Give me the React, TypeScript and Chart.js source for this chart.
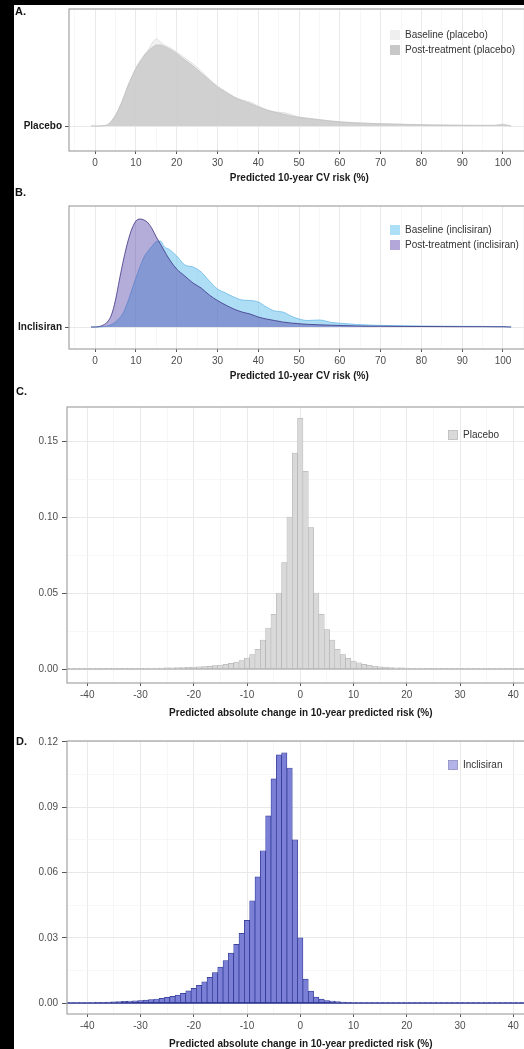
import React, { useEffect, useRef } from 'react';
import { Chart, registerables } from 'chart.js';

Chart.register(...registerables);

const FONT = "'Liberation Sans', Arial, Helvetica, sans-serif";

// ---------- Panels A & B: ridgeline densities of predicted 10-year CV risk ----------
const riskX = [-1, 0, 1, 2, 3, 4, 5, 6, 7, 8, 9, 10, 11, 12, 13, 14, 15, 16, 17, 18, 20, 22, 24, 26, 28, 30, 32, 34, 36, 38, 40, 42, 44, 46, 48, 50, 52, 55, 58, 61, 64, 67, 70, 75, 80, 85, 90, 95, 98, 100, 101, 102];
const riskTicks = [0, 10, 20, 30, 40, 50, 60, 70, 80, 90, 100];
const riskMinor = [-5, 5, 15, 25, 35, 45, 55, 65, 75, 85, 95, 105];

const placeboBaseline = [0, 0, 0, 0.003, 0.01, 0.04, 0.10, 0.18, 0.28, 0.39, 0.49, 0.58, 0.65, 0.71, 0.76, 0.83, 0.87, 0.84, 0.81, 0.79, 0.74, 0.68, 0.62, 0.55, 0.47, 0.40, 0.345, 0.295, 0.26, 0.24, 0.20, 0.165, 0.14, 0.135, 0.115, 0.09, 0.078, 0.063, 0.05, 0.04, 0.032, 0.027, 0.022, 0.017, 0.012, 0.009, 0.007, 0.006, 0.006, 0.02, 0.01, 0];
const placeboPost = [0, 0, 0, 0.004, 0.012, 0.05, 0.11, 0.19, 0.29, 0.40, 0.49, 0.575, 0.64, 0.70, 0.75, 0.785, 0.81, 0.81, 0.795, 0.775, 0.725, 0.66, 0.60, 0.53, 0.46, 0.39, 0.34, 0.29, 0.255, 0.225, 0.19, 0.16, 0.14, 0.12, 0.10, 0.087, 0.077, 0.063, 0.048, 0.038, 0.031, 0.026, 0.022, 0.017, 0.012, 0.009, 0.007, 0.006, 0.006, 0.012, 0.006, 0];
const inclisiranBaseline = [0, 0, 0, 0.003, 0.01, 0.025, 0.05, 0.09, 0.15, 0.25, 0.37, 0.49, 0.60, 0.70, 0.76, 0.81, 0.855, 0.86, 0.80, 0.78, 0.71, 0.62, 0.60, 0.55, 0.46, 0.38, 0.34, 0.30, 0.27, 0.265, 0.25, 0.20, 0.16, 0.15, 0.11, 0.08, 0.065, 0.07, 0.045, 0.035, 0.025, 0.02, 0.016, 0.013, 0.01, 0.008, 0.007, 0.006, 0.005, 0.004, 0.002, 0];
const inclisiranPost = [0, 0, 0.005, 0.02, 0.05, 0.12, 0.27, 0.48, 0.68, 0.85, 0.98, 1.06, 1.08, 1.07, 1.04, 0.98, 0.90, 0.83, 0.76, 0.69, 0.58, 0.51, 0.44, 0.39, 0.32, 0.265, 0.22, 0.18, 0.15, 0.13, 0.10, 0.08, 0.065, 0.05, 0.04, 0.033, 0.027, 0.022, 0.018, 0.014, 0.011, 0.009, 0.008, 0.006, 0.005, 0.004, 0.003, 0.003, 0.002, 0.002, 0.001, 0];

// ---------- Panels C & D: histograms of absolute change (bins of width 1, -44 .. 44) ----------
const binStart = -44;
const binWidth = 1;
const placeboChange = [
  // -44 .. -35
  0.0002, 0.0002, 0.0002, 0.0002, 0.0002, 0.0002, 0.0003, 0.0003, 0.0003, 0.0003,
  // -34 .. -25
  0.0003, 0.0004, 0.0004, 0.0004, 0.0004, 0.0005, 0.0005, 0.0006, 0.0006, 0.0007,
  // -24 .. -15
  0.0008, 0.0009, 0.001, 0.0011, 0.0012, 0.0014, 0.0016, 0.0018, 0.0022, 0.0026,
  // -14 .. -1
  0.0031, 0.0037, 0.0045, 0.0055, 0.0072, 0.0095, 0.013, 0.019, 0.027, 0.036, 0.05, 0.07, 0.10, 0.142,
  // 0
  0.165,
  // 1 .. 10
  0.13, 0.093, 0.05, 0.036, 0.026, 0.019, 0.013, 0.0095, 0.007, 0.0052,
  // 11 .. 20
  0.004, 0.0031, 0.0024, 0.0019, 0.0015, 0.0012, 0.001, 0.0008, 0.0007, 0.0006,
  // 21 .. 30
  0.0005, 0.0005, 0.0004, 0.0004, 0.0003, 0.0003, 0.0003, 0.0003, 0.0003, 0.0002,
  // 31 .. 44
  0.0002, 0.0002, 0.0002, 0.0002, 0.0002, 0.0002, 0.0002, 0.0002, 0.0002, 0.0002,
  0.0002, 0.0002, 0.0002, 0.0002,
];
const inclisiranChange = [
  // -44 .. -35
  0.0002, 0.0002, 0.0003, 0.0003, 0.0003, 0.0003, 0.0004, 0.0004, 0.0005, 0.0006,
  // -34 .. -25
  0.0007, 0.0008, 0.0009, 0.001, 0.0012, 0.0014, 0.0016, 0.0019, 0.0022, 0.0026,
  // -24 .. -15
  0.0031, 0.0037, 0.0045, 0.0056, 0.0068, 0.0082, 0.0098, 0.0118, 0.014, 0.0165,
  // -14 .. -3
  0.0195, 0.023, 0.027, 0.032, 0.038, 0.047, 0.058, 0.07, 0.086, 0.103, 0.114, 0.115,
  // -2 .. 0
  0.108, 0.075, 0.03,
  // 1 .. 10
  0.011, 0.0055, 0.0028, 0.0018, 0.0012, 0.0009, 0.0007, 0.0005, 0.0004, 0.0003,
  // 11 .. 20
  0.0003, 0.0002, 0.0002, 0.0002, 0.0002, 0.0002, 0.0002, 0.0002, 0.0002, 0.0002,
  // 21 .. 30
  0.0002, 0.0002, 0.0002, 0.0002, 0.0002, 0.0002, 0.0002, 0.0002, 0.0002, 0.0002,
  // 31 .. 44
  0.0002, 0.0002, 0.0002, 0.0002, 0.0002, 0.0002, 0.0002, 0.0002, 0.0002, 0.0002,
  0.0002, 0.0002, 0.0002, 0.0002,
];
const changeTicks = [-40, -30, -20, -10, 0, 10, 20, 30, 40];
const changeMinor = [-45, -35, -25, -15, -5, 5, 15, 25, 35, 45];
const placeboYTicks = [0, 0.05, 0.10, 0.15];
const placeboYMinor = [0.025, 0.075, 0.125];
const inclisiranYTicks = [0, 0.03, 0.06, 0.09, 0.12];
const inclisiranYMinor = [0.015, 0.045, 0.075, 0.105];

const CW = 540;

// Draws the zero-height bar outlines of the histogram as one baseline (like ggplot's outlined empty bins)
const zeroLinePlugin = {
  id: 'zeroLine',
  afterDatasetsDraw(chart: any, _args: any, opts: any) {
    if (!opts || !opts.color) return;
    const { ctx, chartArea: ca, scales } = chart;
    const y = scales.y.getPixelForValue(0);
    ctx.save();
    ctx.beginPath();
    ctx.rect(ca.left, ca.top, ca.right - ca.left, ca.bottom - ca.top);
    ctx.clip();
    ctx.strokeStyle = opts.color;
    ctx.lineWidth = opts.width;
    ctx.beginPath();
    ctx.moveTo(ca.left, y);
    ctx.lineTo(ca.right, y);
    ctx.stroke();
    ctx.restore();
  },
};

const decorPlugin = {
  id: 'decor',
  afterDraw(chart: any, _args: any, opts: any) {
    const { ctx, chartArea: ca } = chart;
    ctx.save();
    ctx.strokeStyle = '#a3a3a3';
    ctx.lineWidth = 1.2;
    ctx.strokeRect(ca.left, ca.top, ca.right - ca.left, ca.bottom - ca.top);
    ctx.fillStyle = '#111';
    ctx.font = `bold 11px ${FONT}`;
    ctx.textBaseline = 'middle';
    ctx.textAlign = 'left';
    ctx.fillText(opts.letter, opts.letterX, opts.letterY);
    ctx.font = `10px ${FONT}`;
    chart.data.datasets.forEach((ds: any, i: number) => {
      const y = opts.legendY + i * 15;
      ctx.fillStyle = ds.legendColor;
      ctx.fillRect(opts.legendX, y - 5, 10, 10);
      if (ds.legendBorder) {
        ctx.strokeStyle = ds.legendBorder;
        ctx.lineWidth = 0.6;
        ctx.strokeRect(opts.legendX + 0.3, y - 4.7, 9.4, 9.4);
      }
      ctx.fillStyle = '#333';
      ctx.fillText(ds.label, opts.legendX + 15, y);
    });
    ctx.restore();
  },
};

function xAxis(min: number, max: number, major: number[], minor: number[], title: string, height: number, titlePad: number) {
  const isMajor = (v: number) => major.some((m) => Math.abs(m - v) < 1e-6);
  return {
    type: 'linear',
    min,
    max,
    offset: false,
    afterBuildTicks: (s: any) => {
      s.ticks = [...major, ...minor].sort((a, b) => a - b).filter((v) => v >= min && v <= max).map((v) => ({ value: v }));
    },
    afterFit: (s: any) => {
      s.height = height;
      s.paddingLeft = 0;
      s.paddingRight = 0;
    },
    border: { display: false },
    grid: {
      offset: false,
      color: (c: any) => (c.tick && isMajor(c.tick.value) ? '#e9e9e9' : '#f4f4f4'),
      lineWidth: (c: any) => (c.tick && isMajor(c.tick.value) ? 1 : 0.7),
      tickColor: (c: any) => (c.tick && isMajor(c.tick.value) ? '#555' : 'rgba(0,0,0,0)'),
      tickLength: 3,
      tickWidth: 1,
    },
    ticks: {
      padding: 3,
      maxRotation: 0,
      autoSkip: false,
      color: '#4d4d4d',
      font: { family: FONT, size: 10 },
      callback: (v: number) => (isMajor(v) ? String(Math.round(v)) : ''),
    },
    title: {
      display: true,
      text: title,
      color: '#1a1a1a',
      font: { family: FONT, size: 10, weight: 'bold' },
      padding: { top: 0, bottom: titlePad },
    },
  };
}

function ridgeConfig(opts: any) {
  const mk = (label: string, arr: number[], fill: string, line: string, legendColor: string, order: number) => ({
    type: 'line',
    label,
    data: riskX.map((x, i) => ({ x, y: arr[i] })),
    backgroundColor: fill,
    borderColor: line,
    borderWidth: 0.8,
    fill: 'origin',
    pointRadius: 0,
    cubicInterpolationMode: 'monotone',
    legendColor,
    order,
  });
  return {
    type: 'line',
    data: {
      datasets: [
        mk(opts.baseLabel, opts.base, opts.baseFill, opts.baseLine, opts.baseLegend, 2),
        mk(opts.postLabel, opts.post, opts.postFill, opts.postLine, opts.postLegend, 1),
      ],
    },
    options: {
      responsive: false,
      animation: false,
      layout: { padding: { top: opts.padTop, right: opts.padRight, left: 0, bottom: 0 } },
      scales: {
        x: xAxis(-6.4, 106.5, riskTicks, riskMinor, 'Predicted 10-year CV risk (%)', opts.xHeight, opts.titlePad),
        y: {
          type: 'linear',
          min: opts.yMin,
          max: opts.yMax,
          afterBuildTicks: (s: any) => {
            s.ticks = [{ value: 0 }];
          },
          afterFit: (s: any) => {
            s.width = 55;
            s.paddingTop = 0;
            s.paddingBottom = 0;
          },
          border: { display: false },
          grid: { color: '#e9e9e9', tickColor: '#555', tickLength: 4 },
          ticks: {
            padding: 3,
            color: '#1a1a1a',
            font: { family: FONT, size: 10, weight: 'bold' },
            callback: () => opts.group,
          },
        },
      },
      plugins: {
        legend: { display: false },
        tooltip: { enabled: false },
        decor: { letter: opts.letter, letterX: 1, letterY: opts.letterY, legendX: 376, legendY: opts.legendY },
      },
    },
    plugins: [decorPlugin],
  };
}

function histConfig(opts: any) {
  const yMajor = (v: number) => opts.yTicks.some((m: number) => Math.abs(m - v) < 1e-9);
  return {
    type: 'bar',
    data: {
      datasets: [
        {
          label: opts.label,
          data: opts.values.map((y: number, i: number) => ({ x: binStart + i * binWidth, y })),
          backgroundColor: opts.fill,
          borderColor: opts.line,
          borderWidth: opts.lineWidth,
          borderSkipped: false,
          barPercentage: 1,
          categoryPercentage: 1,
          legendColor: opts.legendColor,
          legendBorder: opts.legendBorder,
        },
      ],
    },
    options: {
      responsive: false,
      animation: false,
      layout: { padding: { top: opts.padTop, right: 19.4, left: 0, bottom: 0 } },
      scales: {
        x: xAxis(-43.8, 44, changeTicks, changeMinor, 'Predicted absolute change in 10-year predicted risk (%)', opts.xHeight, opts.titlePad),
        y: {
          type: 'linear',
          min: opts.yMin,
          max: opts.yMax,
          afterBuildTicks: (s: any) => {
            s.ticks = [...opts.yTicks, ...opts.yMinor].sort((a: number, b: number) => a - b).map((v: number) => ({ value: v }));
          },
          afterFit: (s: any) => {
            s.width = 53;
            s.paddingTop = 0;
            s.paddingBottom = 0;
          },
          border: { display: false },
          grid: {
            color: (c: any) => (c.tick && yMajor(c.tick.value) ? '#e9e9e9' : '#f4f4f4'),
            lineWidth: (c: any) => (c.tick && yMajor(c.tick.value) ? 1 : 0.7),
            tickColor: (c: any) => (c.tick && yMajor(c.tick.value) ? '#555' : 'rgba(0,0,0,0)'),
            tickLength: 5,
          },
          ticks: {
            padding: 4,
            color: '#4d4d4d',
            font: { family: FONT, size: 10 },
            callback: (v: number) => (yMajor(v) ? v.toFixed(2) : ''),
          },
        },
      },
      plugins: {
        legend: { display: false },
        tooltip: { enabled: false },
        zeroLine: { color: opts.line, width: opts.zeroWidth },
        decor: { letter: opts.letter, letterX: 2, letterY: opts.letterY, legendX: 434, legendY: opts.legendY },
      },
    },
    plugins: [zeroLinePlugin, decorPlugin],
  };
}

const panels = [
  {
    top: 5,
    height: 190,
    config: () =>
      ridgeConfig({
        letter: 'A.', letterY: 7, group: 'Placebo',
        baseLabel: 'Baseline (placebo)', postLabel: 'Post-treatment (placebo)',
        base: placeboBaseline, post: placeboPost,
        baseFill: 'rgba(232,232,232,0.6)', baseLine: '#d9d9d9', baseLegend: '#efefef',
        postFill: 'rgba(195,195,195,0.7)', postLine: '#c2c2c2', postLegend: '#c8c8c8',
        padTop: 4, padRight: 24.5, xHeight: 44, titlePad: 11,
        yMin: -0.25, yMax: 1.17, legendY: 30,
      }),
  },
  {
    top: 185,
    height: 200,
    config: () =>
      ridgeConfig({
        letter: 'B.', letterY: 8, group: 'Inclisiran',
        baseLabel: 'Baseline (inclisiran)', postLabel: 'Post-treatment (inclisiran)',
        base: inclisiranBaseline, post: inclisiranPost,
        baseFill: 'rgba(120,200,240,0.6)', baseLine: '#6bb8e6', baseLegend: '#ade0f6',
        postFill: 'rgba(70,50,160,0.4)', postLine: '#3c3484', postLegend: '#b3a6d8',
        padTop: 21, padRight: 24.5, xHeight: 36, titlePad: 3,
        yMin: -0.22, yMax: 1.21, legendY: 45,
      }),
  },
  {
    top: 385,
    height: 340,
    config: () =>
      histConfig({
        letter: 'C.', letterY: 7, label: 'Placebo', values: placeboChange,
        fill: '#d9d9d9', line: '#a8a8a8', lineWidth: 0.5, zeroWidth: 1, legendColor: '#d9d9d9', legendBorder: '#b5b5b5',
        padTop: 22, xHeight: 42, titlePad: 6,
        yMin: -0.0092, yMax: 0.1724, yTicks: placeboYTicks, yMinor: placeboYMinor, legendY: 50,
      }),
  },
  {
    top: 725,
    height: 330,
    config: () =>
      histConfig({
        letter: 'D.', letterY: 17, label: 'Inclisiran', values: inclisiranChange,
        fill: '#7b80d6', line: '#2a3390', lineWidth: 0.7, zeroWidth: 1.3, legendColor: '#b3b3ea', legendBorder: '#8a8ab8',
        padTop: 16, xHeight: 41, titlePad: 5,
        yMin: -0.005, yMax: 0.1204, yTicks: inclisiranYTicks, yMinor: inclisiranYMinor, legendY: 40,
      }),
  },
];

function Panel({ top, height, config }: { top: number; height: number; config: () => any }) {
  const ref = useRef<HTMLCanvasElement>(null);
  useEffect(() => {
    const chart = new Chart(ref.current as HTMLCanvasElement, config());
    return () => chart.destroy();
  }, []);
  return (
    <canvas
      ref={ref}
      width={CW}
      height={height}
      style={{ position: 'absolute', left: 14, top, width: CW, height, display: 'block' }}
    />
  );
}

export default function App() {
  return (
    <div style={{ position: 'fixed', left: 0, top: 0, width: 524, height: 1049, background: '#000', overflow: 'hidden' }}>
      <div style={{ position: 'absolute', left: 14, top: 5, width: 600, height: 1100, background: '#fff' }} />
      {panels.map((p, i) => (
        <Panel key={i} top={p.top} height={p.height} config={p.config} />
      ))}
    </div>
  );
}
